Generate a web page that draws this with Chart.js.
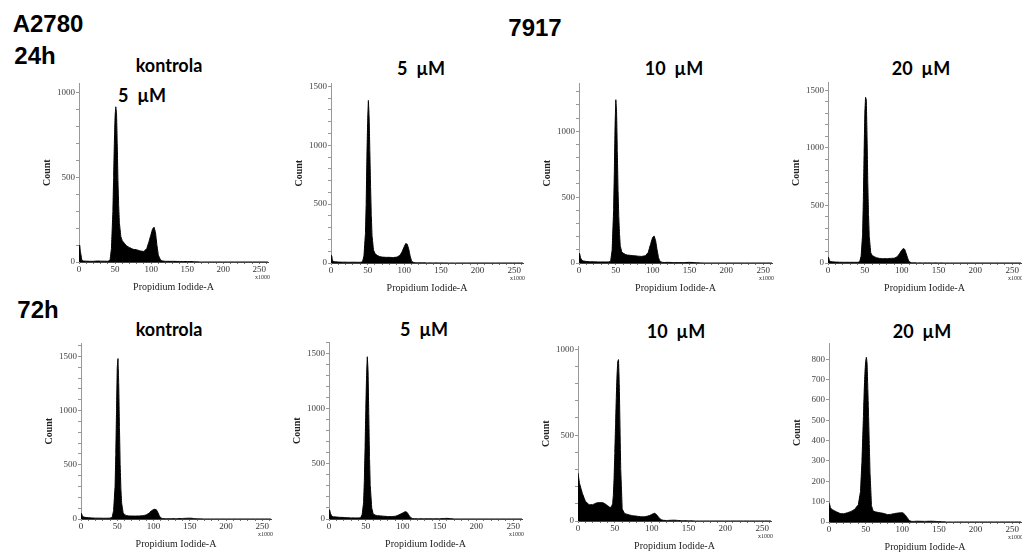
<!doctype html>
<html lang="en">
<head>
<title>A2780 7917</title>
<script src="https://cdn.jsdelivr.net/npm/chart.js@4.4.1/dist/chart.umd.min.js"></script>
<style>
  body { margin:0; background:#fff; width:1022px; height:553px; overflow:hidden; position:relative; font-family:"Liberation Sans", Arial, sans-serif; }
  .lbl { position:absolute; transform:translate(-50%,-50%); white-space:pre; font-weight:bold; color:#000; }
  .big { font-size:24px; }
  .ttl { font-family:Lato, "Liberation Sans", sans-serif; font-size:18px; }
  canvas { position:absolute; }
</style>
</head>
<body>
<div class="lbl big" style="left:48px;top:24px">A2780</div>
<div class="lbl big" style="left:35px;top:56px">24h</div>
<div class="lbl big" style="left:535px;top:28px">7917</div>
<div class="lbl big" style="left:38px;top:310px">72h</div>
<div class="lbl ttl" style="left:142px;top:95px">5  &micro;M</div>
<div id="titles"></div>

<script>
// channel positions (Propidium Iodide-A, x1000)
var xs = [0,1,2,4,6,10,15,20,25,30,35,40,43,45,47,48,49,50,51,52,53,54,55,56,58,60,63,66,70,75,80,85,90,94,97,100,102,104,106,108,110,113,116,120,130,140,150,160,170,262];

// 24h
var h24_kontrola = [95,100,60,10,6,5,4,4,6,5,5,4,10,80,300,500,700,860,915,880,700,480,330,230,150,125,110,95,85,75,72,65,62,80,120,165,195,205,175,100,40,12,6,4,4,3,3,2,0,0];
var h24_5uM = [70,60,20,12,10,8,7,7,6,7,6,6,10,60,250,500,900,1200,1380,1250,950,650,400,230,110,80,65,55,50,48,48,46,50,65,95,140,165,160,120,60,15,4,2,2,1,1,1,0,0,0];
var h24_10uM = [75,70,40,20,15,12,10,9,8,8,8,8,15,100,400,700,1050,1240,1150,850,550,350,220,130,85,75,65,60,58,55,52,50,55,80,140,195,205,170,100,40,12,5,4,5,3,3,5,2,0,0];
var h24_20uM = [55,45,20,12,10,8,7,6,6,6,6,6,10,60,250,550,950,1300,1440,1420,1100,700,420,230,90,65,55,45,40,38,38,40,42,55,80,110,125,120,85,45,12,3,2,1,1,1,1,0,0,0];

// 72h
var h72_kontrola = [55,45,25,18,15,12,10,8,8,7,7,8,15,80,300,600,1000,1400,1480,1250,850,500,280,150,60,40,32,28,28,27,28,30,38,55,75,88,90,85,60,30,10,4,3,3,3,5,8,2,0,0];
var h72_5uM = [85,80,50,25,20,18,15,14,12,10,10,10,12,40,150,350,650,1000,1300,1470,1350,950,550,300,100,45,35,30,28,25,22,22,25,35,45,55,62,66,60,40,18,5,3,2,2,2,2,6,0,0];
var h72_10uM = [280,250,220,190,160,115,95,95,105,108,105,90,80,80,100,150,250,400,560,720,850,930,940,800,300,70,45,40,35,30,28,25,25,28,32,38,42,45,40,30,18,8,4,3,5,2,1,0,0,0];
var h72_20uM = [95,85,70,62,58,50,42,40,45,52,62,85,150,300,520,640,730,790,810,780,650,520,380,240,80,55,50,48,45,42,36,38,42,44,45,46,42,35,25,15,6,3,3,4,3,4,2,0,0,0];

var rowTitles = ['kontrola', '5  \u00b5M', '10  \u00b5M', '20  \u00b5M'];
var yMaxes = [1053, 1525, 1364, 1570, 1620, 1600, 1017, 878];
var yLabelSteps = [500, 500, 500, 500, 500, 500, 500, 100];
var series = [h24_kontrola, h24_5uM, h24_10uM, h24_20uM, h72_kontrola, h72_5uM, h72_10uM, h72_20uM];

// placement of each plot area on the page
var boxes = [
  {x0:79,  w:189, top:83,  base:262},
  {x0:331, w:192, top:83,  base:263},
  {x0:579, w:193, top:83,  base:263},
  {x0:828, w:193, top:82,  base:263},
  {x0:81,  w:190, top:343, base:519},
  {x0:329, w:193, top:342, base:519},
  {x0:578, w:193, top:346, base:521},
  {x0:829, w:192, top:343, base:522}
];
var titlePos = [
  [169,65],[421,68],[674,68],[921,68],
  [169,329],[424,329],[676,331],[922,331]
];

var t = document.getElementById('titles');
titlePos.forEach(function(p, i) {
  var d = document.createElement('div');
  d.className = 'lbl ttl';
  d.style.left = p[0] + 'px';
  d.style.top = p[1] + 'px';
  d.textContent = rowTitles[i % 4];
  t.appendChild(d);
});

var LEFT = 55, PADT = 6, PADR = 12, BOTTOM = 34;
var serif = 'Liberation Serif, Times New Roman, serif';

var x1000 = {
  id: 'x1000',
  afterDraw: function(c) {
    var a = c.chartArea, ctx = c.ctx;
    ctx.save();
    ctx.font = '6px ' + serif;
    ctx.fillStyle = '#333';
    ctx.textAlign = 'right';
    ctx.fillText('x1000', a.right + 2, a.bottom + 17);
    ctx.restore();
  }
};

series.forEach(function(counts, i) {
  var b = boxes[i];
  var cv = document.createElement('canvas');
  cv.width = LEFT + b.w + PADR;
  cv.height = (b.base - b.top) + PADT + BOTTOM;
  cv.style.left = (b.x0 - LEFT) + 'px';
  cv.style.top = (b.top - PADT) + 'px';
  document.body.appendChild(cv);
  var step = yLabelSteps[i];

  new Chart(cv, {
    type: 'line',
    data: {
      datasets: [{
        data: xs.map(function(x, k) { return {x: x, y: counts[k]}; }),
        borderColor: '#000',
        backgroundColor: '#000',
        borderWidth: 1,
        fill: 'origin',
        pointRadius: 0,
        tension: 0.001   // keeps straight segments but avoids the pixel-merging fast path
      }]
    },
    options: {
      responsive: false,
      animation: false,
      events: [],
      layout: { autoPadding: false, padding: {left: 0, top: PADT, right: PADR, bottom: 0} },
      plugins: { legend: {display: false}, tooltip: {enabled: false} },
      scales: {
        x: {
          type: 'linear', min: 0, max: 262,
          afterFit: function(s) { s.height = BOTTOM; },
          border: { color: '#444', width: 1 },
          grid: { drawOnChartArea: false, tickLength: 2, tickColor: '#777' },
          ticks: {
            stepSize: 10, autoSkip: false, includeBounds: false, maxRotation: 0, padding: 0, color: '#333',
            font: { family: serif, size: 9 },
            callback: function(v) { return v % 50 === 0 ? String(v) : ''; }
          },
          title: { display: true, text: 'Propidium Iodide-A', color: '#222',
                   font: { family: serif, size: 10 }, padding: {top: 0, bottom: 3} }
        },
        y: {
          min: 0, max: yMaxes[i],
          afterFit: function(s) { s.width = LEFT; },
          border: { color: '#999', width: 1 },
          grid: { drawOnChartArea: false, tickLength: 3, tickColor: '#999' },
          ticks: {
            stepSize: 100, autoSkip: false, includeBounds: false, padding: 1, color: '#444',
            font: { family: serif, size: 9 },
            callback: function(v) { return v % step === 0 ? String(v) : ''; }
          },
          title: { display: true, text: 'Count', color: '#222',
                   font: { family: serif, size: 10, weight: 'bold' }, padding: {top: 17, bottom: 0} }
        }
      }
    },
    plugins: [x1000]
  });
});
</script>
</body>
</html>
